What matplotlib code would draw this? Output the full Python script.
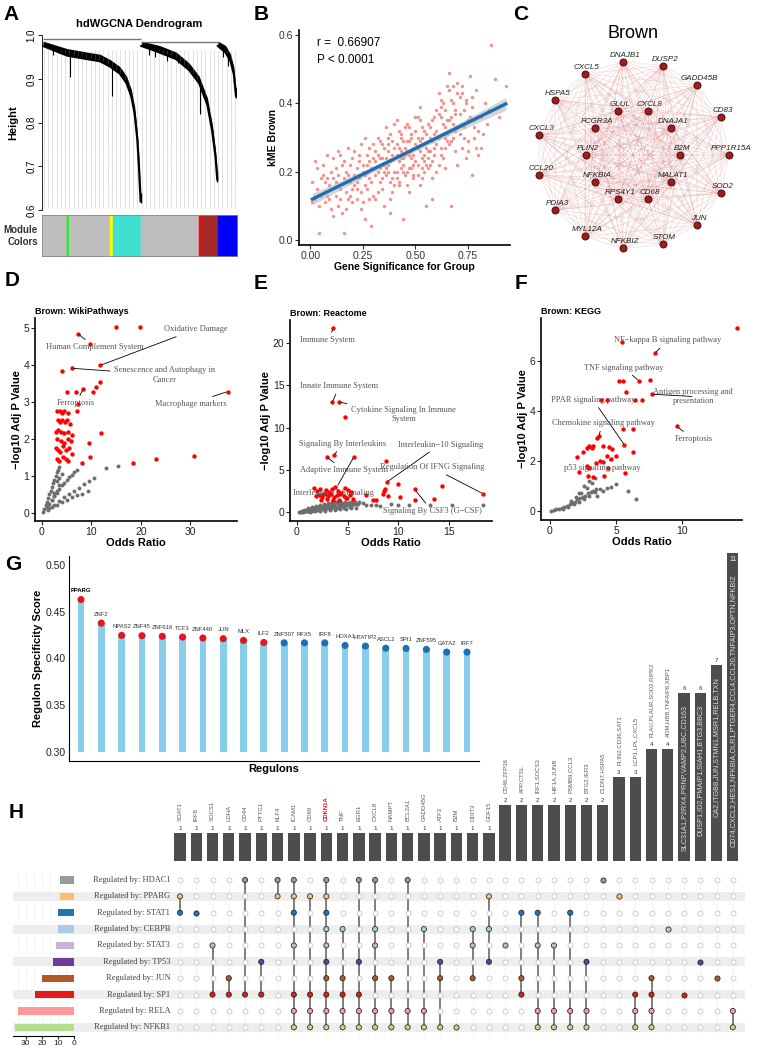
import itertools
import matplotlib.pyplot as plt
import numpy as np
from matplotlib.collections import LineCollection

plt.rcParams['font.family'] = ['Liberation Sans', 'DejaVu Sans']

W, H = 759, 1049

# ---------------- A: dendrogram (leaf positions as fraction of width) ----------------
br1_x = [0.0, 0.125, 0.228, 0.296, 0.347, 0.398, 0.433, 0.458, 0.475, 0.489, 0.497, 0.506]
br1_h = [0.975, 0.953, 0.945, 0.940, 0.928, 0.912, 0.890, 0.859, 0.820, 0.760, 0.700, 0.620]
br2_x = [0.510, 0.604, 0.690, 0.757, 0.809, 0.852, 0.877, 0.894, 0.903]
br2_h = [0.975, 0.960, 0.945, 0.920, 0.890, 0.840, 0.780, 0.720, 0.670]
br3_x = [0.906, 0.946, 0.972, 0.989, 1.0]
br3_h = [0.975, 0.960, 0.940, 0.910, 0.860]
hair_x = [0.139, 0.358, 0.814, 0.05, 0.09, 0.17, 0.20, 0.26, 0.31, 0.55, 0.58, 0.64, 0.70, 0.93, 0.96]
hair_h = [0.905, 0.860, 0.820, 0.955, 0.960, 0.950, 0.955, 0.945, 0.940, 0.955, 0.950, 0.940, 0.935, 0.950, 0.930]
module_colors = ['#BEBEBE', '#00FF00', '#BEBEBE', '#FFFF00', '#40E0D0', '#BEBEBE', '#FF0000', '#A52A2A', '#0000FF']
module_bounds = [0.0, 0.127, 0.14, 0.349, 0.366, 0.508, 0.805, 0.815, 0.904, 1.0]

# ---------------- B: kME vs gene significance ----------------
gs_values = [0.01, 0.02, 0.02, 0.03, 0.04, 0.04, 0.05, 0.01, 0.03, 0.05,
             0.06, 0.07, 0.07, 0.08, 0.08, 0.09, 0.09, 0.10, 0.06, 0.10, 0.08, 0.07,
             .11, .11, .12, .12, .13, .13, .14, .14, .15, .15, .12, .13, .11, .14,
             .16, .16, .17, .17, .18, .18, .19, .19, .20, .20, .16, .17, .18, .19, .20,
             .21, .21, .22, .22, .23, .23, .24, .24, .25, .25, .21, .22, .23, .24, .25, .22,
             .26, .26, .27, .27, .28, .28, .29, .29, .30, .30, .26, .27, .28, .29, .30, .27, .28, .26,
             .31, .31, .32, .32, .33, .33, .34, .34, .35, .35, .31, .32, .33, .34, .35, .31, .32, .33, .34, .35,
             .36, .36, .37, .37, .38, .38, .39, .39, .40, .40, .36, .37, .38, .39, .40, .36, .37, .38, .39, .40, .38, .37,
             .41, .41, .42, .42, .43, .43, .44, .44, .45, .45, .41, .42, .43, .44, .45, .41, .42, .43, .44, .45, .42, .43, .44, .41,
             .46, .46, .47, .47, .48, .48, .49, .49, .50, .50, .46, .47, .48, .49, .50, .46, .47, .48, .49, .50, .47, .48, .46, .49,
             .51, .51, .52, .52, .53, .53, .54, .54, .55, .55, .51, .52, .53, .54, .55, .51, .52, .53, .54, .55, .52, .53, .51, .54,
             .56, .56, .57, .57, .58, .58, .59, .59, .60, .60, .56, .57, .58, .59, .60, .56, .57, .58, .59, .60, .58, .57,
             .61, .61, .62, .62, .63, .63, .64, .64, .65, .65, .61, .62, .63, .64, .65, .61, .62, .63, .64, .65, .62, .64,
             .66, .66, .67, .67, .68, .68, .69, .69, .70, .70, .66, .67, .68, .69, .70, .66, .67, .68, .69, .70,
             .71, .71, .72, .72, .73, .73, .74, .74, .75, .75, .71, .72, .73, .74, .75, .72,
             .76, .76, .77, .77, .78, .78, .79, .79, .80, .80, .77, .78,
             .81, .81, .82, .83, .84, .85,
             .86, .88, .90, .93]
kme_values = [0.17, 0.23, 0.12, 0.21, 0.10, 0.02, 0.18, 0.11, 0.15, 0.13,
              0.19, 0.14, 0.11, 0.25, 0.18, 0.16, 0.12, 0.09, 0.22, 0.20, 0.13, 0.17,
              .24, .07, .17, .21, .10, .19, .25, .15, .08, .22, .13, .26, .18, .12,
              .02, .23, .20, .14, .27, .12, .17, .22, .15, .24, .18, .09, .19, .13, .11,
              .26, .16, .12, .21, .18, .23, .14, .28, .20, .11, .19, .17, .25, .09, .22, .15,
              .30, .06, .15, .22, .18, .27, .04, .21, .24, .13, .19, .25, .12, .17, .28, .20, .23, .16,
              .26, .12, .30, .20, .17, .24, .15, .28, .22, .10, .19, .25, .21, .18, .27, .23, .14, .29, .24, .20,
              .33, .19, .22, .28, .17, .31, .25, .14, .20, .27, .24, .30, .23, .18, .34, .21, .26, .12, .29, .16, .08, .20,
              .35, .20, .27, .17, .31, .24, .22, .29, .25, .33, .18, .23, .26, .06, .19, .28, .32, .21, .24, .27, .16, .30, .20, .25,
              .26, .34, .21, .29, .24, .31, .18, .27, .23, .36, .20, .33, .26, .22, .28, .16, .25, .30, .19, .32, .14, .21, .29, .25,
              .30, .22, .26, .39, .24, .33, .20, .28, .31, .10, .27, .35, .18, .25, .22, .36, .29, .21, .32, .27, .16, .30, .19, .23,
              .34, .26, .29, .22, .35, .18, .31, .25, .28, .38, .21, .33, .12, .27, .32, .24, .30, .23, .36, .20, .29, .26,
              .43, .30, .36, .27, .40, .24, .33, .38, .29, .45, .22, .41, .31, .27, .35, .37, .25, .34, .21, .31, .39, .30,
              .49, .35, .10, .41, .45, .30, .38, .26, .43, .33, .28, .36, .40, .32, .22, .44, .29, .34, .37, .46,
              .42, .31, .45, .27, .38, .33, .41, .24, .35, .29, .37, .43, .30, .40, .26, .34,
              .48, .36, .19, .42, .33, .30, .44, .27, .25, .32, .39, .35,
              .27, .36, .31, .40, .34, .38,
              .57, .47, .36, .45]

# ---------------- C: network ----------------
outer_genes = ['PPP1R15A', 'CD83', 'GADD45B', 'DUSP2', 'DNAJB1', 'CXCL5', 'HSPA5', 'CXCL3',
               'CCL20', 'PDIA3', 'MYL12A', 'NFKBIZ', 'STOM', 'JUN', 'SOD2']
inner_genes = ['B2M', 'DNAJA1', 'CXCL8', 'GLUL', 'FCGR3A', 'PLIN2', 'NFKBIA', 'RPS4Y1', 'CD68', 'MALAT1']

# ---------------- D/E/F: enrichment ----------------
D_grey_x = [0.3, 0.5, 0.8, 1.0, 1.2, 1.5, 1.8, 2.0, 2.2, 2.5, 2.8, 3.0, 3.2, 3.5,
            1.0, 1.5, 2.0, 2.5, 3.0, 3.5, 4.0, 4.5, 5.0, 5.5, 6.0, 6.5, 7.0,
            1.5, 2.5, 3.5, 4.5, 5.5, 6.5, 7.5, 8.5, 9.5, 10.5, 13.0, 15.3,
            1.2, 2.0, 3.0, 4.0, 5.0, 6.0, 7.0, 8.0, 9.3,
            2.0, 2.5, 3.0, 3.5, 3.0, 2.5, 3.5, 4.0]
D_grey_y = [0.02, 0.1, 0.2, 0.3, 0.4, 0.5, 0.6, 0.7, 0.8, 0.9, 1.0, 1.1, 1.15, 1.25,
            0.15, 0.25, 0.35, 0.45, 0.55, 0.65, 0.75, 0.82, 0.9, 0.97, 1.03, 1.1, 1.15,
            0.12, 0.22, 0.32, 0.42, 0.52, 0.6, 0.68, 0.78, 0.85, 0.95, 1.2, 1.27,
            0.08, 0.15, 0.22, 0.3, 0.36, 0.42, 0.48, 0.52, 0.58,
            0.35, 0.45, 0.6, 0.75, 0.85, 0.55, 0.95, 1.05]
D_red_x = [15.0, 19.8, 7.3, 9.8, 11.8, 6.1, 4.0, 11.8, 10.9, 8.3,
           5.1, 6.9, 10.3, 7.2, 37.5,
           3.0, 3.6, 4.0, 4.5, 5.3, 7.0,
           3.2, 3.6, 4.0, 4.6, 5.0, 5.6,
           2.9, 3.3, 3.8, 4.4, 5.3, 6.1,
           3.1, 3.8, 4.5, 5.2, 5.8,
           2.8, 3.3, 3.7, 4.2, 4.8, 5.5, 6.0,
           3.0, 3.5, 4.2, 4.8, 5.2,
           9.5, 9.8, 12.0, 8.0, 18.3, 23.0, 30.7]
D_red_y = [5.02, 5.02, 4.84, 4.56, 3.99, 3.91, 3.84, 3.53, 3.41, 3.34,
           3.28, 3.28, 3.28, 2.95, 3.28,
           2.75, 2.75, 2.7, 2.75, 2.7, 2.75,
           2.5, 2.45, 2.5, 2.45, 2.5, 2.4,
           2.2, 2.25, 2.2, 2.15, 2.2, 2.1,
           2.0, 1.95, 1.9, 2.0, 1.95,
           1.75, 1.7, 1.65, 1.8, 1.7, 1.75, 1.6,
           1.45, 1.4, 1.5, 1.45, 1.4,
           1.9, 1.5, 2.15, 1.35, 1.35, 1.45, 1.55]
D_labels = ['Oxidative Damage', 'Human Complement System', 'Senescence and Autophagy in\nCancer',
            'Ferroptosis', 'Macrophage markers']
D_label_pos = [(31.0, 4.96), (10.7, 4.48), (24.8, 3.73), (6.85, 2.96), (30.0, 2.95)]
D_label_pt = [(11.8, 3.99), (7.3, 4.84), (6.1, 3.91), (8.3, 3.34), (37.5, 3.28)]

E_grey_x = [0.2, 0.4, 0.6, 0.8, 1.0, 1.2, 1.4, 1.6, 1.8, 2.0, 2.2, 2.4, 2.6, 2.8, 3.0,
            3.2, 3.4, 3.6, 3.8, 4.0, 4.2, 4.4, 4.6, 4.8, 5.0, 5.2, 5.4, 5.6, 5.8, 6.0,
            0.5, 0.9, 1.3, 1.7, 2.1, 2.5, 2.9, 3.3, 3.7, 4.1, 4.5, 4.9, 5.3, 5.7, 6.1, 6.5,
            0.7, 1.1, 1.5, 1.9, 2.3, 2.7, 3.1, 3.5, 3.9, 4.3, 4.7, 5.1, 5.5,
            1.0, 1.6, 2.2, 2.8, 3.4, 4.0, 4.6, 5.2,
            0.3, 0.6, 0.9, 1.2, 1.5, 1.8, 2.1, 2.4, 2.7, 3.0, 3.3, 3.6, 3.9, 4.2, 4.5, 4.8, 5.1, 5.4, 5.7,
            1.3, 1.8, 2.3, 2.8, 3.3, 3.8, 4.3, 4.8, 5.3, 5.8,
            6.8, 7.3, 7.8, 8.2, 9.3, 10.0, 11.0, 13.1, 15.3, 18.3]
E_grey_y = [0.0, 0.05, 0.1, 0.12, 0.15, 0.2, 0.22, 0.25, 0.3, 0.32, 0.35, 0.4, 0.42, 0.45, 0.5,
            0.52, 0.55, 0.6, 0.62, 0.65, 0.7, 0.72, 0.75, 0.8, 0.82, 0.85, 0.9, 0.92, 0.95, 1.0,
            0.15, 0.25, 0.35, 0.45, 0.55, 0.65, 0.75, 0.85, 0.95, 1.05, 1.1, 1.15, 1.2, 1.25, 1.2, 1.1,
            0.3, 0.5, 0.6, 0.75, 0.9, 1.0, 1.1, 1.2, 1.25, 1.3, 1.2, 1.15, 1.05,
            0.1, 0.2, 0.3, 0.4, 0.45, 0.5, 0.55, 0.6,
            0.02, 0.08, 0.14, 0.3, 0.4, 0.5, 0.6, 0.65, 0.75, 0.8, 0.95, 1.0, 1.1, 1.0, 1.0, 1.0, 1.1, 1.05, 1.1,
            0.05, 0.1, 0.15, 0.2, 0.25, 0.3, 0.35, 0.4, 0.45, 0.5,
            0.9, 0.8, 0.85, 0.7, 1.0, 0.8, 0.9, 0.8, 0.9, 0.9]
E_red_x = [3.6, 3.5, 4.2, 4.7, 3.0, 3.7, 5.6, 8.8, 8.9, 10.0, 14.3, 11.6, 18.3, 10.2, 13.5, 11.6,
           1.7, 2.0, 2.3, 2.6, 2.9, 3.2, 3.5, 3.8, 4.1, 4.4, 4.7, 5.0, 5.3,
           1.9, 2.2, 2.5, 2.8, 3.1, 3.4, 3.7, 4.0, 4.3, 4.6, 4.9, 5.2, 5.5,
           6.8, 7.5, 7.8, 8.5, 8.6, 8.7, 9.0,
           2.4, 3.0, 3.6, 4.2, 4.8]
E_red_y = [21.7, 13.0, 13.0, 11.3, 6.5, 6.8, 6.5, 6.1, 3.6, 3.3, 3.05, 2.7, 2.2, 1.8, 1.6, 1.5,
           2.9, 2.5, 2.7, 2.2, 2.6, 2.4, 2.8, 3.0, 2.5, 2.3, 2.9, 2.6, 2.4,
           1.9, 2.0, 1.8, 2.1, 1.9, 2.2, 1.8, 2.0, 2.1, 1.9, 1.7, 2.0, 1.6,
           2.0, 1.5, 1.5, 2.2, 2.5, 2.7, 1.9,
           1.5, 1.6, 1.4, 1.5, 1.7]
E_labels = ['Immune System', 'Innate Immune System', 'Cytokine Signaling In Immune\nSystem',
            'Signaling By Interleukins', 'Interleukin\u221210 Signaling', 'Adaptive Immune System',
            'Regulation Of IFNG Signaling', 'Interleukin\u22121 Signaling', 'Signaling By CSF3 (G\u2212CSF)']
E_label_pos = [(3.05, 20.3), (4.2, 14.9), (10.5, 11.55), (4.53, 8.09), (14.1, 8.0), (4.6, 4.95),
               (13.3, 5.3), (3.6, 2.24), (13.3, 0.15)]
E_label_pt = [(3.6, 21.7), (3.5, 13.0), (4.2, 13.0), (3.7, 6.8), (8.9, 3.6), (3.0, 6.5),
              (18.3, 2.2), (5.6, 6.5), (11.6, 2.7)]

F_grey_x = [0.1, 0.3, 0.5, 0.7, 0.9, 1.1, 1.3, 1.5, 1.7, 1.9, 2.1, 2.3, 2.5, 2.7, 2.9, 3.1, 3.3, 3.5,
            1.0, 1.4, 1.8, 2.2, 2.6, 3.0, 3.4, 3.8,
            1.6, 2.0, 2.4, 2.8, 3.2,
            2.2, 2.6, 3.0, 3.4,
            3.6, 4.0, 4.3, 4.6, 5.0, 5.9, 6.5]
F_grey_y = [0.0, 0.02, 0.05, 0.08, 0.12, 0.16, 0.2, 0.25, 0.3, 0.35, 0.45, 0.5, 0.55, 0.6, 0.7, 0.75, 0.8, 0.85,
            0.08, 0.15, 0.25, 0.35, 0.45, 0.6, 0.75, 0.85,
            0.4, 0.55, 0.7, 0.9, 1.1,
            0.7, 1.0, 1.2, 1.3,
            0.6, 0.8, 0.9, 0.95, 1.05, 0.8, 0.45]
F_red_x = [14.1, 5.44, 7.96, 5.2, 5.5, 6.7, 7.6, 5.76, 7.73, 3.9,
           4.36, 6.45, 7.0, 9.57, 5.55, 6.25, 3.7, 3.6, 3.0, 3.3,
           2.8, 3.2, 2.5, 4.0, 4.5, 4.7, 3.8, 4.3, 5.0, 5.64,
           6.3, 2.1, 2.2, 2.8, 3.0, 3.5, 4.0, 4.6, 5.7, 2.9,
           3.3, 4.1, 4.4]
F_red_y = [7.3, 6.76, 6.31, 5.21, 5.21, 5.21, 5.24, 4.74, 4.66, 4.42,
           4.42, 4.42, 4.42, 3.37, 3.26, 3.26, 3.0, 2.9, 2.6, 2.6,
           2.5, 2.5, 2.35, 2.6, 2.55, 2.45, 2.0, 2.2, 2.2, 2.63,
           2.35, 2.15, 1.55, 1.8, 1.7, 1.9, 1.95, 2.05, 1.5, 1.4,
           1.35, 1.4, 1.7]
F_labels = ['NF\u2212kappa B signaling pathway', 'TNF signaling pathway', 'Antigen processing and\npresentation',
            'PPAR signaling pathway', 'Chemokine signaling pathway', 'Ferroptosis', 'p53 signaling pathway']
F_label_pos = [(8.87, 6.81), (5.57, 5.73), (10.83, 4.57), (3.28, 4.44), (4.03, 3.5), (10.88, 2.87), (3.96, 1.7)]
F_label_pt = [(7.96, 6.31), (6.7, 5.21), (7.73, 4.66), (5.64, 2.63), (3.7, 3.0), (9.57, 3.37), (4.6, 2.05)]

# ---------------- G: regulon specificity ----------------
regulons = ['PPARG', 'ZNF2', 'NPAS2', 'ZNF45', 'ZNF616', 'TCF3', 'ZNF440', 'JUN', 'MLX', 'ILF2',
            'ZNF507', 'RFX5', 'IRF8', 'HOXA1', 'HTATIP2', 'ASCL2', 'SPI1', 'ZNF595', 'GATA2', 'IRF7']
rss = [0.4633, 0.438, 0.4248, 0.4245, 0.4238, 0.423, 0.422, 0.4213, 0.4194, 0.4172,
       0.4168, 0.4168, 0.4168, 0.414, 0.4133, 0.4111, 0.4108, 0.4098, 0.4069, 0.4069]
rss_top = [True] * 10 + [False] * 10

# ---------------- H: upset ----------------
h_rows = ['HDAC1', 'PPARG', 'STAT1', 'CEBPB', 'STAT3', 'TP53', 'JUN', 'SP1', 'RELA', 'NFKB1']
row_colors = ['#999999', '#FDBF6F', '#1F78B4', '#A6CEE3', '#CAB2D6', '#6A3D9A', '#B15928', '#E31A1C',
              '#FB9A99', '#B2DF8A']
col_labels = ['SOAT1', 'IRF8', 'SOCS1', 'LDHA', 'CD44', 'PTTG1', 'KLF4', 'ICAM1', 'CD69', 'CDKN1A',
              'TNF', 'EGR1', 'CXCL8', 'NAMPT', 'BCL2A1', 'GADD45G', 'ATF3', 'B2M', 'DDIT3', 'GDF15',
              'CD46,ZFP36', 'APP,CTSL', 'IRF1,SOCS3', 'HIF1A,JUNB', 'PSMB9,CCL3', 'BTG2,IER3', 'CLDN7,HSPA5',
              'PLIN2,CD36,SAT1', 'LCP1,LPL,CXCL5', 'PLAU,PLAUR,SOD2,RIPK2', 'ADM,HBB,TNFAIP6,XBP1',
              'SLC31A1,P2RX4,PRNP,VAMP2,UBC,CD163', 'DUSP1,ID2,PMAIP1,SIAH1,BTG3,BBC3',
              'CA2,ITGB8,JUN,STMN1,MSR1,RELB,TXN',
              'CD74,CXCL2,HES1,NFKBIA,OLR1,PTGER4,CCL4,CCL20,TNFAIP3,OPTN,NFKBIZ']
col_counts = [1, 1, 1, 1, 1, 1, 1, 1, 1, 1, 1, 1, 1, 1, 1, 1, 1, 1, 1, 1,
              2, 2, 2, 2, 2, 2, 2, 3, 3, 4, 4, 6, 6, 7, 11]
col_members = [
    ['PPARG', 'STAT1'], ['STAT1'], ['STAT3', 'SP1'], ['JUN', 'SP1'], ['HDAC1', 'SP1'],
    ['TP53', 'SP1'], ['HDAC1', 'PPARG'],
    ['HDAC1', 'PPARG', 'STAT1', 'STAT3', 'SP1', 'RELA', 'NFKB1'],
    ['PPARG', 'SP1', 'RELA', 'NFKB1'],
    ['HDAC1', 'PPARG', 'STAT1', 'CEBPB', 'STAT3', 'TP53', 'JUN', 'SP1', 'RELA', 'NFKB1'],
    ['CEBPB', 'JUN', 'SP1', 'RELA', 'NFKB1'],
    ['HDAC1', 'TP53', 'SP1', 'RELA', 'NFKB1'],
    ['HDAC1', 'CEBPB', 'STAT3', 'JUN', 'RELA', 'NFKB1'],
    ['JUN', 'RELA', 'NFKB1'], ['HDAC1', 'RELA', 'NFKB1'], ['CEBPB', 'RELA', 'NFKB1'],
    ['TP53', 'JUN', 'NFKB1'], ['NFKB1'], ['CEBPB', 'STAT3', 'JUN'], ['PPARG', 'CEBPB', 'TP53'],
    ['STAT3'], ['STAT1', 'JUN', 'SP1'], ['STAT1', 'STAT3', 'RELA', 'NFKB1'], ['STAT3', 'RELA', 'NFKB1'],
    ['STAT1', 'RELA', 'NFKB1'], ['TP53', 'RELA', 'NFKB1'], ['HDAC1'],
    ['PPARG'], ['SP1', 'RELA', 'NFKB1'], ['JUN', 'SP1', 'RELA', 'NFKB1'], ['CEBPB'],
    ['SP1'], ['TP53'], ['JUN'], ['RELA', 'NFKB1'],
]

fig = plt.figure(figsize=(W / 100, H / 100), dpi=100)


def px_axes(x0, y0, x1, y1):
    return fig.add_axes([x0 / W, 1 - y1 / H, (x1 - x0) / W, (y1 - y0) / H])


def letter(x, y, s):
    fig.text(x / W, 1 - y / H, s, fontsize=15, fontweight='bold', ha='center', va='center')


# ======== A ========
letter(11, 14, 'A')
axA = px_axes(42, 35, 237, 210)
for gx in np.linspace(0.004, 0.996, 46):
    axA.vlines(gx, 0.605, 0.965, color='#9A9A9A', lw=0.4, linestyle=(0, (1, 1)))
for bx, bh in [(br1_x, br1_h), (br2_x, br2_h), (br3_x, br3_h)]:
    bh = np.array(bh)
    axA.fill_between(bx, bh, np.minimum(bh + 0.016, 0.986), color='black', lw=0)
    axA.plot(bx, bh, color='black', lw=1.6)
    axA.vlines(bx[-1], bh[-1] - 0.005, bh[-1] + 0.02, color='black', lw=1)
env_x = br1_x + br2_x + br3_x
env_h = br1_h + br2_h + br3_h
for hx, hh in zip(hair_x, hair_h):
    axA.vlines(hx, hh, np.interp(hx, env_x, env_h), color='black', lw=0.8)
axA.hlines(0.99, 0.0, 0.51, color='#777777', lw=1.0)
axA.hlines(0.983, 0.51, 0.906, color='#777777', lw=1.0)
axA.set_xlim(-0.005, 1.005)
axA.set_ylim(0.6, 1.0)
axA.set_yticks([0.6, 0.7, 0.8, 0.9, 1.0])
axA.set_yticklabels(['0.6', '0.7', '0.8', '0.9', '1.0'], rotation=90, va='center', fontsize=7)
axA.tick_params(axis='y', length=3, width=0.6, pad=1)
axA.set_xticks([])
for s in ['top', 'right', 'bottom']:
    axA.spines[s].set_visible(False)
axA.spines['left'].set_linewidth(0.6)
axA.set_title('hdWGCNA Dendrogram', fontsize=8, fontweight='bold', pad=6)
fig.text(13 / W, 1 - 123 / H, 'Height', rotation=90, fontsize=8, fontweight='bold', ha='center', va='center')

axM = px_axes(42, 215, 237, 256)
for i, c in enumerate(module_colors):
    axM.broken_barh([(module_bounds[i], module_bounds[i + 1] - module_bounds[i])], (0, 1), color=c)
axM.set_xlim(0, 1)
axM.set_ylim(0, 1)
axM.set_xticks([])
axM.set_yticks([])
for s in axM.spines.values():
    s.set_color('#888888')
    s.set_linewidth(0.6)
fig.text(38 / W, 1 - 236 / H, 'Module\nColors', fontsize=7, fontweight='bold', ha='right', va='center',
         color='#333333')

# ======== B ========
letter(261, 14, 'B')
axB = px_axes(299, 30, 510, 245)
gs = np.array(gs_values)
km = np.array(kme_values)
axB.scatter(gs, km, s=6, color='#F4847F', lw=0, alpha=0.9)
coef = np.polyfit(gs, km, 1)
xs = np.linspace(gs.min(), gs.max(), 60)
fit = np.polyval(coef, xs)
resid = km - np.polyval(coef, gs)
se = np.sqrt(np.sum(resid ** 2) / (len(gs) - 2))
band = 1.96 * se * np.sqrt(1 / len(gs) + (xs - gs.mean()) ** 2 / np.sum((gs - gs.mean()) ** 2))
axB.fill_between(xs, fit - band, fit + band, color='#BBBBBB', alpha=0.6, lw=0)
axB.plot(xs, fit, color='#1F6DB2', lw=2.4)
axB.text(0.03, 0.578, 'r =  0.66907', fontsize=8.5, va='center')
axB.text(0.03, 0.528, 'P < 0.0001', fontsize=8.5, va='center')
axB.set_xlim(-0.054, 0.95)
axB.set_ylim(-0.015, 0.615)
axB.set_xticks([0.0, 0.25, 0.5, 0.75])
axB.set_xticklabels(['0.00', '0.25', '0.50', '0.75'])
axB.set_yticks([0.0, 0.2, 0.4, 0.6])
axB.set_yticklabels(['0.0', '0.2', '0.4', '0.6'])
axB.tick_params(labelsize=7.5, length=3, width=0.8, pad=1, colors='#333333')
for s in ['top', 'right']:
    axB.spines[s].set_visible(False)
for s in ['left', 'bottom']:
    axB.spines[s].set_linewidth(1.2)
axB.set_xlabel('Gene Significance for Group', fontsize=7.5, fontweight='bold', labelpad=1)
axB.set_ylabel('kME Brown', fontsize=7.5, fontweight='bold', labelpad=1)

# ======== C ========
letter(521, 15, 'C')
axC = px_axes(515, 20, 759, 265)
cx, cy = 633, 155
node_xy = {}
for k, g in enumerate(outer_genes):
    a = np.deg2rad(24 * k)
    node_xy[g] = (cx + 96 * np.cos(a), cy - 94 * np.sin(a))
for k, g in enumerate(inner_genes):
    a = np.deg2rad(36 * k)
    node_xy[g] = (cx + 47 * np.cos(a), cy - 46 * np.sin(a))
segs = [[node_xy[a], node_xy[b]] for a, b in itertools.combinations(list(node_xy), 2)]
axC.add_collection(LineCollection(segs, colors='#CF6F6F', linewidths=0.35, alpha=0.35))
pts = np.array(list(node_xy.values()))
axC.scatter(pts[:, 0], pts[:, 1], s=26, color='#A11B1B', edgecolor='#3A0A0A', lw=0.6, zorder=3)
for g, (x, y) in node_xy.items():
    axC.text(x + 2, y - 6.5, g, fontsize=5.8, style='italic', ha='center', va='center', color='#222222',
             zorder=4)
axC.text(cx, 34, 'Brown', fontsize=13, ha='center', va='center')
axC.set_xlim(515, 759)
axC.set_ylim(265, 20)
axC.axis('off')


# ======== D, E, F ========
def enrich_panel(ax, gx, gy, rx, ry, labels, lpos, lpt, title, xlim, ylim, xticks, yticks):
    ax.scatter(gx, gy, s=8, color='#6E6E6E', lw=0)
    ax.scatter(rx, ry, s=10, color='#FF0000', lw=0)
    for t, p, q in zip(labels, lpos, lpt):
        ax.annotate(t, xy=q, xytext=p, fontsize=6, color='#555555', family=['Liberation Serif', 'DejaVu Serif'],
                    ha='center', va='center', multialignment='center',
                    arrowprops=dict(arrowstyle='-', color='black', lw=0.6, shrinkA=1, shrinkB=1))
    ax.set_xlim(*xlim)
    ax.set_ylim(*ylim)
    ax.set_xticks(xticks)
    ax.set_yticks(yticks)
    ax.tick_params(labelsize=7.5, length=3, width=0.8, pad=1, colors='#222222')
    for s in ['top', 'right']:
        ax.spines[s].set_visible(False)
    for s in ['left', 'bottom']:
        ax.spines[s].set_linewidth(1.2)
    ax.set_title(title, loc='left', fontsize=6.5, fontweight='bold', pad=3)
    ax.set_xlabel('Odds Ratio', fontsize=8, fontweight='bold', labelpad=1)
    ax.set_ylabel('\u2212log10 Adj P Value', fontsize=8, fontweight='bold', labelpad=1)


letter(12, 281, 'D')
axD = px_axes(35, 318, 237, 521)
enrich_panel(axD, D_grey_x, D_grey_y, D_red_x, D_red_y, D_labels, D_label_pos, D_label_pt,
             'Brown: WikiPathways', (-1.4, 39.4), (-0.22, 5.27), [0, 10, 20, 30], [0, 1, 2, 3, 4, 5])

letter(261, 283, 'E')
axE = px_axes(290, 320, 492, 521)
enrich_panel(axE, E_grey_x, E_grey_y, E_red_x, E_red_y, E_labels, E_label_pos, E_label_pt,
             'Brown: Reactome', (-0.66, 19.2), (-1.03, 22.7), [0, 5, 10, 15], [0, 5, 10, 15, 20])

letter(521, 283, 'F')
axF = px_axes(541, 318, 742, 520)
enrich_panel(axF, F_grey_x, F_grey_y, F_red_x, F_red_y, F_labels, F_label_pos, F_label_pt,
             'Brown: KEGG', (-0.65, 14.5), (-0.37, 7.71), [0, 5, 10], [0, 2, 4, 6])

# ======== G ========
letter(13, 564, 'G')
axG = px_axes(69, 556, 479, 761)
idx = np.arange(len(regulons))
vals = np.array(rss)
axG.bar(idx, vals - 0.30, bottom=0.30, width=0.33, color='#87CEEB', lw=0)
axG.scatter(idx, vals, s=26, c=['#E8141B' if t else '#1F6DB2' for t in rss_top], lw=0, zorder=3)
for i, (name, v) in enumerate(zip(regulons, rss)):
    axG.text(i, v + 0.0068, name, fontsize=4.2, ha='center', va='bottom',
             color='black' if i == 0 else '#333333', fontweight='bold' if i == 0 else 'normal')
axG.set_xlim(-0.59, 19.59)
axG.set_ylim(0.29, 0.51)
axG.set_xticks([])
axG.set_yticks([0.30, 0.35, 0.40, 0.45, 0.50])
axG.set_yticklabels(['0.30', '0.35', '0.40', '0.45', '0.50'])
axG.tick_params(labelsize=7.5, length=0, pad=2, colors='#222222')
for s in ['top', 'right']:
    axG.spines[s].set_visible(False)
axG.set_xlabel('Regulons', fontsize=8, fontweight='bold', labelpad=2)
axG.set_ylabel('Regulon Specificity Score', fontsize=8, fontweight='bold', labelpad=2)

# ======== H ========
letter(16, 813, 'H')
n_cols = len(col_labels)
row_of = {r: i for i, r in enumerate(h_rows)}
set_sizes = [sum(c for c, m in zip(col_counts, col_members) if r in m) for r in h_rows]

bg = px_axes(13, 871.8, 745, 1035.5)
bg.set_xlim(0, 1)
bg.set_ylim(len(h_rows) - 0.5, -0.5)
for i in range(1, len(h_rows), 2):
    bg.axhspan(i - 0.27, i + 0.27, color='#EEEEEE', lw=0)
bg.axis('off')

xl = (-0.492, 34.75)
axT = px_axes(172, 548, 745, 860.7)
axT.patch.set_alpha(0)
axT.bar(np.arange(n_cols), col_counts, width=0.7, color='#4D4D4D', lw=0)
for i, (lab, c) in enumerate(zip(col_labels, col_counts)):
    if c < 6:
        axT.text(i, c + 0.05, str(c), fontsize=4.5, ha='center', va='bottom', color='#333333')
        axT.text(i, c + 0.42, lab, fontsize=4.3, rotation=90, ha='center', va='bottom',
                 color='#E8141B' if lab == 'CDKN1A' else '#5A5A5A',
                 fontweight='bold' if lab == 'CDKN1A' else 'normal')
    elif c < 10:
        axT.text(i, c + 0.05, str(c), fontsize=4.5, ha='center', va='bottom', color='#333333')
        axT.text(i, c - 0.45, lab, fontsize=5.2, rotation=90, ha='center', va='top', color='#DDDDDD')
    else:
        axT.text(i, c - 0.12, str(c), fontsize=5, ha='center', va='top', color='#EEEEEE')
        axT.text(i, c - 0.75, lab, fontsize=5.2, rotation=90, ha='center', va='top', color='#DDDDDD')
axT.set_xlim(*xl)
axT.set_ylim(0, 11.17)
axT.axis('off')

axH = px_axes(172, 871.8, 745, 1035.5)
axH.patch.set_alpha(0)
for i, mem in enumerate(col_members):
    axH.vlines(i, -0.5, len(h_rows) - 0.5, color='#DDDDDD', lw=0.5, linestyle=(0, (1, 1.5)), zorder=0)
    rows = sorted(row_of[m] for m in mem)
    if len(rows) > 1:
        axH.vlines(i, rows[0], rows[-1], color='#5E5E5E', lw=1.1, zorder=1)
    empty = [r for r in range(len(h_rows)) if r not in rows]
    axH.scatter([i] * len(empty), empty, s=13, facecolor='white', edgecolor='#C8C8C8', lw=0.6, zorder=2)
    axH.scatter([i] * len(rows), rows, s=14, c=[row_colors[r] for r in rows], edgecolor='#222222',
                lw=0.55, zorder=3)
for r, name in enumerate(h_rows):
    axH.text(-0.6, r, 'Regulated by: ' + name, fontsize=6, ha='right', va='center', color='#444444',
             family=['Liberation Serif', 'DejaVu Serif'])
axH.set_xlim(*xl)
axH.set_ylim(len(h_rows) - 0.5, -0.5)
axH.axis('off')

axS = px_axes(13, 871.8, 74, 1035.5)
axS.patch.set_alpha(0)
axS.barh(np.arange(len(h_rows)), set_sizes, height=0.45, color=row_colors, lw=0)
axS.set_xlim(38, 0)
axS.set_ylim(len(h_rows) - 0.5, -0.5)
axS.set_xticks([30, 20, 10, 0])
axS.set_xticks([35, 25, 15, 5], minor=True)
axS.grid(axis='x', which='both', color='#E6E6E6', lw=0.5, linestyle=(0, (2, 2)))
axS.set_axisbelow(True)
axS.set_yticks([])
axS.tick_params(axis='x', labelsize=6, length=2, pad=1, colors='#222222')
axS.tick_params(axis='x', which='minor', length=0)
for s in ['top', 'right', 'left']:
    axS.spines[s].set_visible(False)
axS.spines['bottom'].set_linewidth(0.8)

fig.savefig('out.png', dpi=100)
